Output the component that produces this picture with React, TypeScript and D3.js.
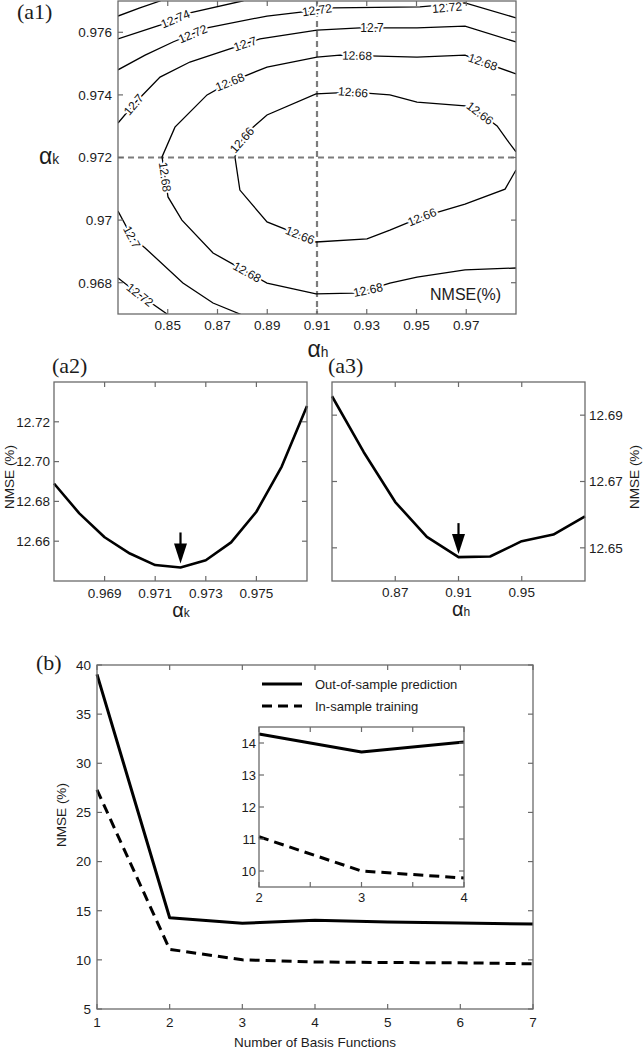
import React from 'react';
import * as d3 from 'd3';

// ---- (a1) contour map: NMSE(%) over (alpha_h, alpha_k) ----
const contourLevels = ['12.76', '12.74', '12.72', '12.7', '12.68', '12.66', '12.7', '12.72'];
const c1276 = [[0.83, 0.97652], [0.8388, 0.97678], [0.8469, 0.977], [0.851, 0.9773]];
const c1274 = [[0.83, 0.97579], [0.8469, 0.97623], [0.8589, 0.97662], [0.8799, 0.977], [0.884, 0.9771]];
const c1272a = [[0.83, 0.9748], [0.8409, 0.97527], [0.8521, 0.97569], [0.8658, 0.97614], [0.8899, 0.97652], [0.9044, 0.97665], [0.9164, 0.97678], [0.9514, 0.97681], [0.9695, 0.97694], [0.99, 0.97646]];
const c127a = [[0.83, 0.9731], [0.8368, 0.97374], [0.8469, 0.97457], [0.8589, 0.97505], [0.871, 0.97537], [0.8871, 0.97579], [0.91, 0.97607], [0.9273, 0.97614], [0.9502, 0.97614], [0.9695, 0.9762], [0.99, 0.97569]];
const c1268 = [[0.99, 0.97467], [0.9767, 0.97505], [0.9695, 0.97527], [0.9502, 0.97521], [0.9192, 0.97527], [0.91, 0.97521], [0.8899, 0.97489], [0.875, 0.97441], [0.8658, 0.974], [0.8529, 0.97297], [0.8477, 0.97202], [0.8489, 0.97138], [0.8501, 0.97074], [0.8557, 0.97], [0.8682, 0.96895], [0.8819, 0.96834], [0.8899, 0.96799], [0.9096, 0.96764], [0.9245, 0.96767], [0.9305, 0.96777], [0.9393, 0.96799], [0.9502, 0.96818], [0.9695, 0.96841], [0.99, 0.96847]];
const c1266 = [[0.99, 0.97218], [0.9864, 0.97256], [0.9824, 0.97301], [0.9755, 0.97342], [0.9695, 0.97365], [0.9502, 0.97377], [0.9393, 0.974], [0.9245, 0.97409], [0.9096, 0.97403], [0.8899, 0.97336], [0.8843, 0.97297], [0.8798, 0.97256], [0.877, 0.97202], [0.879, 0.97096], [0.8899, 0.96994], [0.9032, 0.96952], [0.9096, 0.9693], [0.9301, 0.9694], [0.9393, 0.96968], [0.9522, 0.9701], [0.9695, 0.97051], [0.9856, 0.97099], [0.99, 0.9716]];
const c127b = [[0.83, 0.97029], [0.8356, 0.96946], [0.8409, 0.96911], [0.8561, 0.96799], [0.8682, 0.96735], [0.879, 0.967], [0.881, 0.9669]];
const c1272b = [[0.83, 0.96815], [0.8388, 0.96761], [0.8497, 0.967], [0.851, 0.9669]];
const contours = [c1276, c1274, c1272a, c127a, c1268, c1266, c127b, c1272b];
// [contour index, alpha_h, alpha_k]
const contourLabels = [
  [1, 0.8529, 0.97646], [2, 0.8597, 0.97601], [2, 0.91, 0.97671], [2, 0.9623, 0.97684],
  [3, 0.8356, 0.97374], [3, 0.8811, 0.97563], [3, 0.9321, 0.97614],
  [4, 0.875, 0.97441], [4, 0.9261, 0.97531], [4, 0.9767, 0.97505], [4, 0.8489, 0.97138], [4, 0.8819, 0.96834], [4, 0.9305, 0.96777],
  [5, 0.8798, 0.97256], [5, 0.9245, 0.97409], [5, 0.9755, 0.97342], [5, 0.9032, 0.96952], [5, 0.9522, 0.9701],
  [6, 0.8356, 0.96946], [7, 0.8388, 0.96761],
];
const optimumH = 0.91;
const optimumK = 0.972;
const hTicksA1 = [0.85, 0.87, 0.89, 0.91, 0.93, 0.95, 0.97];
const kTicksA1 = [0.968, 0.97, 0.972, 0.974, 0.976];

// ---- (a2) NMSE vs alpha_k ----
const alphaK = [0.967, 0.968, 0.969, 0.97, 0.971, 0.972, 0.973, 0.974, 0.975, 0.976, 0.977];
const nmseK = [12.689, 12.674, 12.662, 12.6538, 12.648, 12.6468, 12.6504, 12.6594, 12.6748, 12.6975, 12.728];
const kTicksA2 = [0.969, 0.971, 0.973, 0.975];
const nTicksA2 = [12.66, 12.68, 12.7, 12.72];

// ---- (a3) NMSE vs alpha_h ----
const alphaH = [0.83, 0.85, 0.87, 0.89, 0.91, 0.93, 0.95, 0.97, 0.99];
const nmseH = [12.6957, 12.6789, 12.6638, 12.6533, 12.6472, 12.6474, 12.652, 12.654, 12.6595];
const hTicksA3 = [0.87, 0.91, 0.95];
const nTicksA3 = [12.65, 12.67, 12.69];

// ---- (b) NMSE vs number of basis functions ----
const basisCount = [1, 2, 3, 4, 5, 6, 7];
const outOfSample = [39.05, 14.28, 13.72, 14.03, 13.85, 13.76, 13.64];
const inSample = [27.3, 11.07, 10.0, 9.78, 9.73, 9.7, 9.6];
const seriesNames = ['Out-of-sample prediction', 'In-sample training'];
const bTicksX = [1, 2, 3, 4, 5, 6, 7];
const bTicksY = [5, 10, 15, 20, 25, 30, 35, 40];
const insetTicksX = [2, 2.5, 3, 3.5, 4];
const insetTicksY = [10, 11, 12, 13, 14];

const SANS = "'Liberation Sans', Arial, Helvetica, sans-serif";
const SERIF = "'Liberation Serif', 'Times New Roman', serif";
const AXIS = '#6a6a6a';
const INK = '#1c1c1c';

type S = d3.ScaleLinear<number, number>;

function Frame(p: {
  x: S; y: S; xTicks: number[]; yTicks: number[];
  fx: (v: number) => string; fy: (v: number) => string;
  fs: number; xdy: number; ydx: number; yRight?: boolean;
}) {
  const [x0, x1] = p.x.range();
  const [y1, y0] = p.y.range();
  const t = 5;
  return (
    <g fontFamily={SANS} fontSize={p.fs} fill={INK}>
      <rect x={x0} y={y0} width={x1 - x0} height={y1 - y0} fill="none" stroke={AXIS} strokeWidth={1.3} />
      {p.xTicks.map(v => (
        <g key={'x' + v}>
          <line x1={p.x(v)} x2={p.x(v)} y1={y1} y2={y1 - t} stroke={AXIS} strokeWidth={1.2} />
          <line x1={p.x(v)} x2={p.x(v)} y1={y0} y2={y0 + t} stroke={AXIS} strokeWidth={1.2} />
          <text x={p.x(v)} y={y1 + p.xdy} textAnchor="middle">{p.fx(v)}</text>
        </g>
      ))}
      {p.yTicks.map(v => (
        <g key={'y' + v}>
          <line x1={x0} x2={x0 + t} y1={p.y(v)} y2={p.y(v)} stroke={AXIS} strokeWidth={1.2} />
          <line x1={x1} x2={x1 - t} y1={p.y(v)} y2={p.y(v)} stroke={AXIS} strokeWidth={1.2} />
          <text x={p.yRight ? x1 + p.ydx : x0 - p.ydx} y={p.y(v)} dy="0.36em"
            textAnchor={p.yRight ? 'start' : 'end'}>{p.fy(v)}</text>
        </g>
      ))}
    </g>
  );
}

function Arrow({ x, tip }: { x: number; tip: number }) {
  const hw = 6.5, hh = 20, len = 31;
  return (
    <g>
      <line x1={x} x2={x} y1={tip - len} y2={tip - hh + 1} stroke="#000" strokeWidth={2.2} />
      <path d={`M${x - hw},${tip - hh}L${x + hw},${tip - hh}L${x},${tip}Z`} fill="#000" />
    </g>
  );
}

function AlphaLabel({ x, y, sub, big }: { x: number; y: number; sub: string; big: number }) {
  return (
    <text x={x} y={y} textAnchor="middle" fontFamily={SANS} fill={INK}>
      <tspan fontSize={big}>α</tspan>
      <tspan fontSize={big * 0.6}>{sub}</tspan>
    </text>
  );
}

export default function App() {
  // (a1)
  const xA1 = d3.scaleLinear().domain([0.83, 0.99]).range([118, 516]);
  const yA1 = d3.scaleLinear().domain([0.967, 0.977]).range([314, 1]);
  const lineA1 = d3.line<number[]>().x(d => xA1(d[0])).y(d => yA1(d[1]));

  const placed = contourLabels.map(([ci, h, k]) => {
    const P = contours[ci].map(([a, b]) => [xA1(a), yA1(b)]);
    const px = xA1(h), py = yA1(k);
    let best = { d: Infinity, x: px, y: py, ang: 0 };
    for (let i = 0; i < P.length - 1; i++) {
      const [ax, ay] = P[i], [bx, by] = P[i + 1];
      const dx = bx - ax, dy = by - ay;
      let t = ((px - ax) * dx + (py - ay) * dy) / (dx * dx + dy * dy);
      t = Math.max(0, Math.min(1, t));
      const qx = ax + t * dx, qy = ay + t * dy;
      const d = Math.hypot(px - qx, py - qy);
      if (d < best.d) {
        let ang = (Math.atan2(dy, dx) * 180) / Math.PI;
        if (ang > 90) ang -= 180;
        if (ang < -90) ang += 180;
        best = { d, x: qx, y: qy, ang };
      }
    }
    // keep labels inside the page
    return { text: contourLevels[ci], ...best, y: Math.max(best.y, 7.5) };
  });

  // (a2)
  const xA2 = d3.scaleLinear().domain([0.967, 0.977]).range([54, 307]);
  const yA2 = d3.scaleLinear().domain([12.64, 12.74]).range([581, 382]);
  const lineA2 = d3.line<number>().x((_, i) => xA2(alphaK[i])).y(d => yA2(d));
  const minK = d3.minIndex(nmseK);

  // (a3)
  const xA3 = d3.scaleLinear().domain([0.83, 0.99]).range([332, 585]);
  const yA3 = d3.scaleLinear().domain([12.64, 12.7]).range([581, 382]);
  const lineA3 = d3.line<number>().x((_, i) => xA3(alphaH[i])).y(d => yA3(d));
  const minH = d3.minIndex(nmseH);

  // (b)
  const xB = d3.scaleLinear().domain([1, 7]).range([97, 533]);
  const yB = d3.scaleLinear().domain([5, 40]).range([1009, 665]);
  const lineB = d3.line<number>().x((_, i) => xB(basisCount[i])).y(d => yB(d));
  const xI = d3.scaleLinear().domain([2, 4]).range([259, 464]);
  const yI = d3.scaleLinear().domain([9.5, 14.5]).range([887, 727]);
  const insetIdx = basisCount.map((c, i) => i).filter(i => basisCount[i] >= 2 && basisCount[i] <= 4);
  const lineI = d3.line<number>().x(i => xI(basisCount[i]));

  const fmt2 = d3.format('.2f');
  const plain = (v: number) => String(v);

  return (
    <div style={{ position: 'absolute', left: 0, top: 0 }}>
      <svg width={643} height={1050} style={{ display: 'block', background: '#fff' }}>
        <defs>
          <clipPath id="clipA1"><rect x={118} y={1} width={398} height={313} /></clipPath>
        </defs>

        {/* ---------- (a1) ---------- */}
        <text x={17} y={19} fontFamily={SERIF} fontSize={22} fill={INK}>(a1)</text>
        <g clipPath="url(#clipA1)">
          <line x1={xA1(optimumH)} x2={xA1(optimumH)} y1={1} y2={314} stroke="#7c7c7c" strokeWidth={2.2} strokeDasharray="6 4" />
          <line x1={118} x2={516} y1={yA1(optimumK)} y2={yA1(optimumK)} stroke="#7c7c7c" strokeWidth={2.2} strokeDasharray="6 4" />
          {contours.map((c, i) => (
            <path key={i} d={lineA1(c) || ''} fill="none" stroke="#000" strokeWidth={1.3} />
          ))}
        </g>
        <g fontFamily={SANS} fontSize={12} fill="#111">
          {placed.map((l, i) => (
            <text key={i} transform={`translate(${l.x},${l.y}) rotate(${l.ang})`} textAnchor="middle" dy="0.35em"
              stroke="#fff" strokeWidth={4} paintOrder="stroke" strokeLinejoin="round">{l.text}</text>
          ))}
        </g>
        <Frame x={xA1} y={yA1} xTicks={hTicksA1} yTicks={kTicksA1} fx={plain} fy={plain} fs={13.5} xdy={16} ydx={6} />
        <text x={430} y={300} fontFamily={SANS} fontSize={16} fill={INK}>NMSE(%)</text>
        <AlphaLabel x={318} y={357} sub="h" big={23} />
        <AlphaLabel x={49} y={164} sub="k" big={23} />

        {/* ---------- (a2) ---------- */}
        <text x={52} y={373} fontFamily={SERIF} fontSize={22} fill={INK}>(a2)</text>
        <path d={lineA2(nmseK) || ''} fill="none" stroke="#000" strokeWidth={2.6} strokeLinejoin="round" />
        <Arrow x={xA2(alphaK[minK])} tip={yA2(nmseK[minK]) - 4} />
        <Frame x={xA2} y={yA2} xTicks={kTicksA2} yTicks={nTicksA2} fx={plain} fy={fmt2} fs={13.5} xdy={17} ydx={4} />
        <AlphaLabel x={181} y={617} sub="k" big={20} />
        <text transform="translate(14,477) rotate(-90)" textAnchor="middle" fontFamily={SANS} fontSize={13.5} fill={INK}>NMSE (%)</text>

        {/* ---------- (a3) ---------- */}
        <text x={328} y={373} fontFamily={SERIF} fontSize={22} fill={INK}>(a3)</text>
        <path d={lineA3(nmseH) || ''} fill="none" stroke="#000" strokeWidth={2.6} strokeLinejoin="round" />
        <Arrow x={xA3(alphaH[minH])} tip={yA3(nmseH[minH]) - 3} />
        <Frame x={xA3} y={yA3} xTicks={hTicksA3} yTicks={nTicksA3} fx={plain} fy={fmt2} fs={13.5} xdy={16} ydx={4} yRight />
        <AlphaLabel x={461} y={616} sub="h" big={20} />
        <text transform="translate(639,477) rotate(-90)" textAnchor="middle" fontFamily={SANS} fontSize={13.5} fill={INK}>NMSE (%)</text>

        {/* ---------- (b) ---------- */}
        <text x={36} y={670} fontFamily={SERIF} fontSize={22} fill={INK}>(b)</text>
        <path d={lineB(outOfSample) || ''} fill="none" stroke="#000" strokeWidth={3} strokeLinejoin="round" />
        <path d={lineB(inSample) || ''} fill="none" stroke="#000" strokeWidth={3} strokeDasharray="10 6" />
        <Frame x={xB} y={yB} xTicks={bTicksX} yTicks={bTicksY} fx={plain} fy={plain} fs={13.5} xdy={18} ydx={6} />
        <text x={315} y={1047} textAnchor="middle" fontFamily={SANS} fontSize={13.5} fill={INK}>Number of Basis Functions</text>
        <text transform="translate(66,815) rotate(-90)" textAnchor="middle" fontFamily={SANS} fontSize={13.5} fill={INK}>NMSE (%)</text>

        {/* legend */}
        <g fontFamily={SANS} fontSize={13} fill={INK}>
          <line x1={262} x2={302} y1={684} y2={684} stroke="#000" strokeWidth={3} />
          <text x={315} y={684} dy="0.36em">{seriesNames[0]}</text>
          <line x1={262} x2={302} y1={706} y2={706} stroke="#000" strokeWidth={3} strokeDasharray="10 6" />
          <text x={315} y={706} dy="0.36em">{seriesNames[1]}</text>
        </g>

        {/* inset */}
        <rect x={259} y={727} width={205} height={160} fill="#fff" />
        <path d={lineI.y(i => yI(outOfSample[i]))(insetIdx) || ''} fill="none" stroke="#000" strokeWidth={3} strokeLinejoin="round" />
        <path d={lineI.y(i => yI(inSample[i]))(insetIdx) || ''} fill="none" stroke="#000" strokeWidth={3} strokeDasharray="10 6" />
        <Frame x={xI} y={yI} xTicks={insetTicksX} yTicks={insetTicksY}
          fx={v => (Number.isInteger(v) ? String(v) : '')} fy={plain} fs={13} xdy={15} ydx={3} />
      </svg>
    </div>
  );
}
